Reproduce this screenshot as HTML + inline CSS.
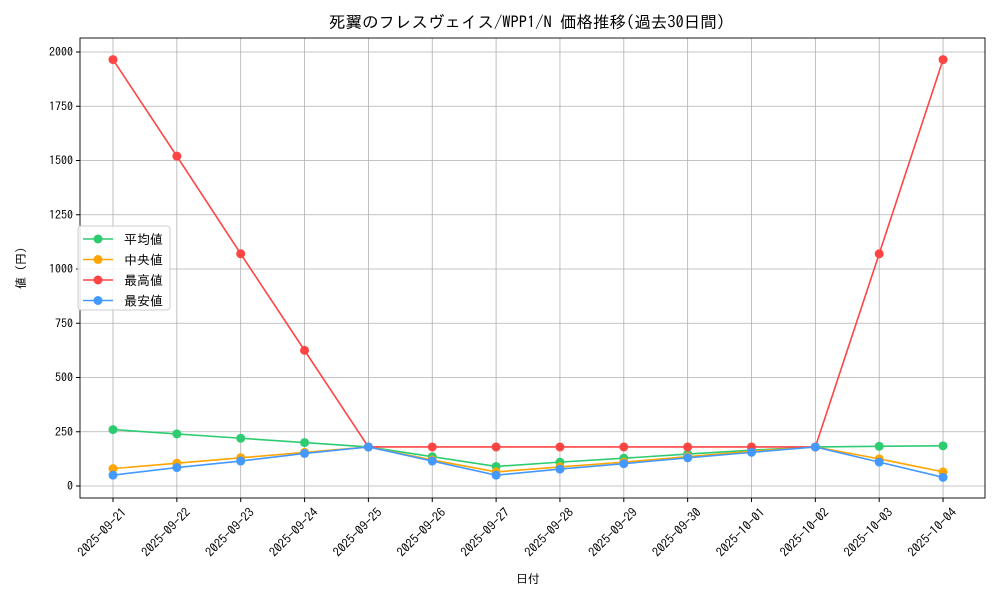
<!DOCTYPE html>
<html><head><meta charset="utf-8"><style>
body{margin:0;background:#fff}
svg text{font-family:"IPAGothic","Liberation Sans","Noto Sans CJK JP",sans-serif;fill:#000}
</style></head><body>
<svg id="s" width="1000" height="600" xmlns="http://www.w3.org/2000/svg"></svg>
<script>
const L=80,R=985,T=38,B=498;
const X=i=>113+i*63.85, Y=v=>486-0.217*v;
const dates=["2025-09-21","2025-09-22","2025-09-23","2025-09-24","2025-09-25","2025-09-26","2025-09-27","2025-09-28","2025-09-29","2025-09-30","2025-10-01","2025-10-02","2025-10-03","2025-10-04"];
const series=[
["#2ecc71",[260,240,220,200,180,135,90,110,128,147,165,180,183,185]],
["#ffa500",[80,105,130,155,180,120,65,88,110,135,160,180,125,65]],
["#ff4444",[1965,1520,1070,625,180,180,180,180,180,180,180,180,1070,1965]],
["#4499ff",[50,85,115,150,180,115,50,78,103,130,155,180,110,40]]];
let h='';
for(let i=0;i<14;i++){const x=X(i);h+=`<line x1="${x}" y1="${T}" x2="${x}" y2="${B}" stroke="#b0b0b0" stroke-width="0.8"/><line x1="${x}" y1="${B}" x2="${x}" y2="${B+4}" stroke="#000"/>`;
h+=`<text transform="translate(${x+8},${B+9}) rotate(-45)" text-anchor="end" font-size="12.5" dominant-baseline="hanging">${dates[i]}</text>`;}
for(let v=0;v<=2000;v+=250){const y=Y(v);h+=`<line x1="${L}" y1="${y}" x2="${R}" y2="${y}" stroke="#b0b0b0" stroke-width="0.8"/><line x1="${L-4}" y1="${y}" x2="${L}" y2="${y}" stroke="#000"/><text x="${L-7}" y="${y+4}" text-anchor="end" font-size="12">${v}</text>`;}
for(const [c,d] of series){h+=`<polyline fill="none" stroke="${c}" stroke-width="1.6" points="${d.map((v,i)=>X(i)+','+Y(v)).join(' ')}"/>`;
d.forEach((v,i)=>h+=`<circle cx="${X(i)}" cy="${Y(v)}" r="4.5" fill="${c}"/>`);}
h+=`<rect x="${L}" y="${T}" width="${R-L}" height="${B-T}" fill="none" stroke="#000" stroke-width="0.9"/>`;
h+=`<rect x="78" y="226" width="92" height="84" rx="3" fill="#fff" fill-opacity="0.85" stroke="#ccc"/>`;
const names=["平均値","中央値","最高値","最安値"];
series.forEach(([c],k)=>{const y=239+k*20.5;h+=`<line x1="83" y1="${y}" x2="113" y2="${y}" stroke="${c}" stroke-width="1.6"/><circle cx="98" cy="${y}" r="4.5" fill="${c}"/><text x="124" y="${y+5}" font-size="13">${names[k]}</text>`;});
h+=`<text x="527" y="28" text-anchor="middle" font-size="16.5">死翼のフレスヴェイス/WPP1/N 価格推移(過去30日間)</text>`;
h+=`<text x="528" y="583" text-anchor="middle" font-size="12">日付</text>`;
h+=`<text transform="translate(25,268) rotate(-90)" text-anchor="middle" font-size="12">値 (円)</text>`;
document.getElementById('s').innerHTML=h;
</script>
</body></html>
